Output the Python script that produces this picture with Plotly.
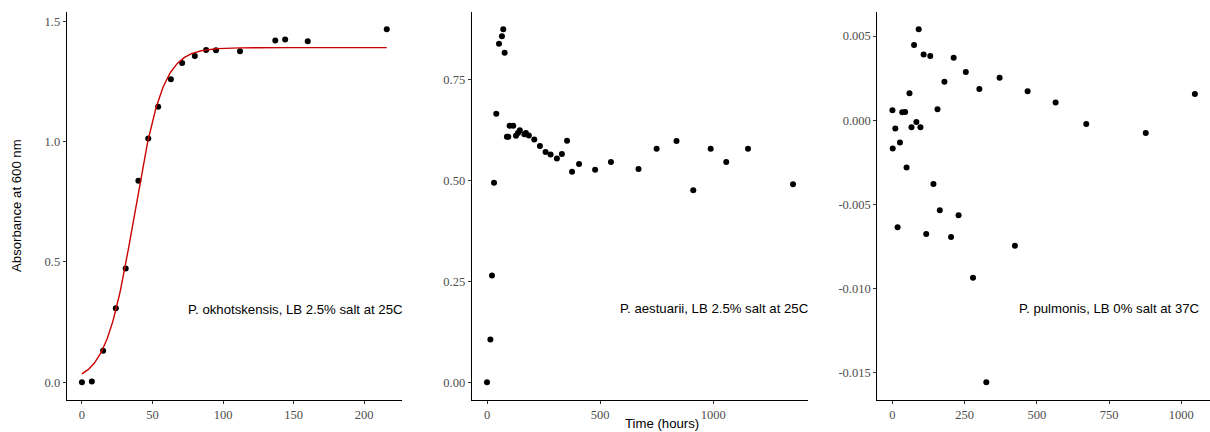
import numpy as np
import plotly.graph_objects as go

# ---- Panel 1: P. okhotskensis ----
okh_time = [0, 7, 15, 24, 31, 40, 47, 54, 63, 71, 80, 88, 95, 112, 137, 144, 160, 216]
okh_abs = [0.000, 0.004, 0.131, 0.308, 0.473, 0.837, 1.013, 1.145, 1.259, 1.326,
           1.355, 1.380, 1.379, 1.375, 1.420, 1.424, 1.417, 1.466]
# logistic fit parameters (K, N0, r)
fit_K = 1.39
fit_N0 = 0.035
fit_r = 0.0985

# ---- Panel 2: P. aestuarii ----
aes_time = [0, 15, 22, 31, 41, 53, 66, 72, 78, 88, 94, 100, 116, 128, 137, 145,
            165, 172, 185, 209, 234, 259, 281, 309, 331, 354, 376, 407, 478, 548,
            670, 750, 838, 912, 989, 1058, 1154, 1353]
aes_abs = [0.000, 0.106, 0.265, 0.495, 0.666, 0.839, 0.858, 0.875, 0.817, 0.609,
           0.609, 0.636, 0.636, 0.611, 0.618, 0.625, 0.615, 0.618, 0.612, 0.602,
           0.586, 0.571, 0.565, 0.555, 0.566, 0.599, 0.522, 0.541, 0.527, 0.546,
           0.529, 0.579, 0.598, 0.476, 0.579, 0.546, 0.579, 0.491]

# ---- Panel 3: P. pulmonis ----
pul_time = [0, 1, 10, 18, 26, 34, 44, 49, 59, 66, 75, 83, 91, 97, 108, 117, 131,
            142, 156, 164, 180, 203, 212, 229, 254, 279, 301, 325, 371, 424, 468,
            565, 671, 877, 1047]
pul_abs = [0.00059, -0.00168, -0.00049, -0.00636, -0.00132, 0.00047, 0.00049,
           -0.00281, 0.00160, -0.00041, 0.00447, -0.00010, 0.00540, -0.00041,
           0.00391, -0.00676, 0.00381, -0.00379, 0.00065, -0.00534, 0.00229,
           -0.00694, 0.00372, -0.00565, 0.00287, -0.00935, 0.00186, -0.01557,
           0.00253, -0.00745, 0.00172, 0.00105, -0.00022, -0.00075, 0.00156]

labels = ["P. okhotskensis, LB 2.5% salt at 25C",
          "P. aestuarii, LB 2.5% salt at 25C",
          "P. pulmonis, LB 0% salt at 37C"]

W, H = 1210, 432
fig = go.Figure()

marker = dict(color="black", size=6)
fig.add_trace(go.Scatter(x=okh_time, y=okh_abs, mode="markers", marker=marker,
                         xaxis="x", yaxis="y", showlegend=False))
t_fit = np.linspace(0, max(okh_time), 300)
y_fit = fit_K / (1 + ((fit_K - fit_N0) / fit_N0) * np.exp(-fit_r * t_fit))
fig.add_trace(go.Scatter(x=t_fit, y=y_fit, mode="lines",
                         line=dict(color="#CC0000", width=1.4),
                         xaxis="x", yaxis="y", showlegend=False))
fig.add_trace(go.Scatter(x=aes_time, y=aes_abs, mode="markers", marker=marker,
                         xaxis="x2", yaxis="y2", showlegend=False))
fig.add_trace(go.Scatter(x=pul_time, y=pul_abs, mode="markers", marker=marker,
                         xaxis="x3", yaxis="y3", showlegend=False))


def exp_range(v):
    lo, hi = min(v), max(v)
    d = (hi - lo) * 0.05
    return [lo - d, hi + d]


tickfont = dict(family="Liberation Serif", size=12.5, color="#4D4D4D")
ax_common = dict(showline=True, linecolor="black", linewidth=1.1, mirror=False,
                 showgrid=False, zeroline=False, ticks="outside", ticklen=3,
                 tickcolor="#333333", tickwidth=1, tickfont=tickfont,
                 automargin=False)

ydom = [1 - 400 / H, 1 - 11.7 / H]
xdoms = [[66.7 / W, 402 / W], [471.7 / W, 808.3 / W], [877.3 / W, 1.0]]

fig.update_layout(
    template="none",
    width=W, height=H, margin=dict(l=0, r=0, t=0, b=0, pad=0),
    plot_bgcolor="white", paper_bgcolor="white",
    xaxis=dict(domain=xdoms[0], range=exp_range(okh_time), anchor="y",
               tickvals=[0, 50, 100, 150, 200], ticktext=["0", "50", "100", "150", "200"], **ax_common),
    yaxis=dict(domain=ydom, range=exp_range(okh_abs), anchor="x",
               tickvals=[0, 0.5, 1.0, 1.5], ticktext=["0.0", "0.5", "1.0", "1.5"], **ax_common),
    xaxis2=dict(domain=xdoms[1], range=exp_range(aes_time), anchor="y2",
                tickvals=[0, 500, 1000], ticktext=["0", "500", "1000"], **ax_common),
    yaxis2=dict(domain=ydom, range=exp_range(aes_abs), anchor="x2",
                tickvals=[0, 0.25, 0.5, 0.75], ticktext=["0.00", "0.25", "0.50", "0.75"], **ax_common),
    xaxis3=dict(domain=xdoms[2], range=exp_range(pul_time), anchor="y3",
                tickvals=[0, 250, 500, 750, 1000], ticktext=["0", "250", "500", "750", "1000"], **ax_common),
    yaxis3=dict(domain=ydom, range=exp_range(pul_abs), anchor="x3",
                tickvals=[-0.015, -0.010, -0.005, 0.0, 0.005],
                ticktext=["-0.015", "-0.010", "-0.005", "0.000", "0.005"], **ax_common),
)

lab_font = dict(family="Liberation Sans", size=13.2, color="black")
fig.add_annotation(text=labels[0], xref="x domain", yref="y", x=1.0, y=0.308,
                   xanchor="right", yanchor="middle", showarrow=False, font=lab_font,
                   xshift=3, yshift=-1)
fig.add_annotation(text=labels[1], xref="x2 domain", yref="y2", x=1.0, y=0.185,
                   xanchor="right", yanchor="middle", showarrow=False, font=lab_font,
                   xshift=3, yshift=-1)
fig.add_annotation(text=labels[2], xref="x3", yref="y3", x=1062, y=-0.01115,
                   xanchor="right", yanchor="middle", showarrow=False, font=lab_font,
                   xshift=3, yshift=-1)

fig.add_annotation(text="Absorbance at 600 nm", xref="paper", yref="paper",
                   x=16 / W, y=1 - 206 / H, textangle=-90, showarrow=False,
                   xanchor="center", yanchor="middle", font=lab_font)
fig.add_annotation(text="Time (hours)", xref="paper", yref="paper",
                   x=662 / W, y=1 - 423 / H, showarrow=False,
                   xanchor="center", yanchor="middle", font=lab_font)

fig.write_html("out.html", config={"displayModeBar": False},
               post_script="document.body.style.margin='0';document.body.style.overflow='hidden';")
